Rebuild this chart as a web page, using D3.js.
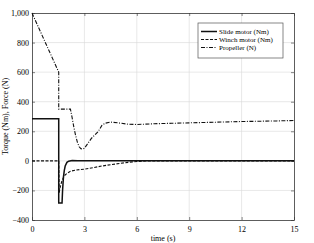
<!DOCTYPE html>
<html>
<head>
<meta charset="utf-8">
<title>Torque and force</title>
<script src="https://cdn.jsdelivr.net/npm/d3@7"></script>
<style>
  body { margin: 0; background: white; }
  text { font-family: "Liberation Serif", "DejaVu Serif", serif; font-size: 8px; fill: black; }
  .legend text { font-size: 7px; }
  .grid line { stroke: #d9d9d9; stroke-width: 0.6; }
</style>
</head>
<body>
<script>
// time (s) and values for each series
var slideT = [0, 1.53, 1.53, 1.72, 1.75, 1.8, 1.85, 1.9, 2.0, 2.1, 2.3, 2.6, 3, 15];
var slideV = [285, 285, -285, -285, -200, -110, -65, -35, -10, -2, 3, 1, 0, 0];

var winchT = [0, 1.53, 1.56, 1.6, 1.7, 1.8, 1.9, 2.0, 2.2, 2.5, 2.8, 3.0, 3.5, 4, 4.5, 5, 5.5, 6, 6.5, 7, 15];
var winchV = [0, 0, -215, -185, -140, -112, -95, -85, -70, -62, -58, -56, -46, -35, -26, -18, -10, -4, -1, 0, 0];

var propT = [0, 1.53, 1.53, 2.2, 2.3, 2.4, 2.5, 2.6, 2.7, 2.8, 2.9, 3.0, 3.2, 3.4, 3.6, 3.8, 4.0, 4.2, 4.5, 5, 5.5, 6, 7, 8, 9, 10, 11, 12, 13, 14, 15];
var propV = [1000, 600, 350, 350, 290, 225, 170, 125, 95, 82, 80, 85, 118, 152, 175, 200, 240, 255, 262, 256, 248, 246, 251, 254, 257, 260, 263, 266, 268, 270, 273];

var xTicks = [0, 3, 6, 9, 12, 15];
var yTicks = [-400, -200, 0, 200, 400, 600, 800, 1000];
var names = ["Slide motor (Nm)", "Winch motor (Nm)", "Propeller (N)"];

var width = 314, height = 243;
var margin = {top: 13, right: 20, bottom: 23, left: 32};
var w = width - margin.left - margin.right, h = height - margin.top - margin.bottom;

var svg = d3.select("body").append("svg").attr("width", width).attr("height", height);
var g = svg.append("g").attr("transform", "translate(" + margin.left + "," + margin.top + ")");

var x = d3.scaleLinear().domain([0, 15]).range([0, w]);
var y = d3.scaleLinear().domain([-400, 1000]).range([h, 0]);

// grid
g.append("g").attr("class", "grid").selectAll("line").data(xTicks.slice(1, -1)).enter().append("line")
  .attr("x1", d => x(d)).attr("x2", d => x(d)).attr("y1", 0).attr("y2", h);
g.append("g").attr("class", "grid").selectAll("line").data(yTicks.slice(1, -1)).enter().append("line")
  .attr("y1", d => y(d)).attr("y2", d => y(d)).attr("x1", 0).attr("x2", w);

// axes, ticks inside
g.append("g").attr("transform", "translate(0," + h + ")")
  .call(d3.axisBottom(x).tickValues(xTicks).tickSizeInner(-3).tickSizeOuter(0).tickPadding(6));
g.append("g")
  .call(d3.axisLeft(y).tickValues(yTicks).tickSizeInner(-3).tickSizeOuter(0).tickPadding(3));
g.append("g")
  .call(d3.axisTop(x).tickValues(xTicks).tickSizeInner(-3).tickSizeOuter(0).tickFormat(""));
g.append("g").attr("transform", "translate(" + w + ",0)")
  .call(d3.axisRight(y).tickValues(yTicks).tickSizeInner(-3).tickSizeOuter(0).tickFormat(""));
g.selectAll(".domain").attr("stroke", "#333").attr("stroke-width", 0.8);
g.selectAll(".tick line").attr("stroke", "#333").attr("stroke-width", 0.6);
g.selectAll(".tick text").attr("font-family", null).attr("font-size", null).attr("fill", null);

// lines
var line = d3.line().x(d => x(d[0])).y(d => y(d[1]));
var series = [
  {pts: d3.zip(slideT, slideV), dash: null, sw: 1.5},
  {pts: d3.zip(winchT, winchV), dash: "3,1.5", sw: 1.1},
  {pts: d3.zip(propT, propV), dash: "4,1.5,1,1.5", sw: 1.1}
];
series.forEach(function(s) {
  g.append("path").attr("d", line(s.pts)).attr("fill", "none")
    .attr("stroke", "#111").attr("stroke-width", s.sw)
    .attr("stroke-dasharray", s.dash);
});

// legend
var lg = svg.append("g").attr("class", "legend").attr("transform", "translate(198,23)");
lg.append("rect").attr("width", 85).attr("height", 35).attr("fill", "white")
  .attr("stroke", "#555").attr("stroke-width", 0.7);
names.forEach(function(n, i) {
  var yy = 8.5 + i * 8;
  lg.append("line").attr("x1", 3).attr("x2", 19).attr("y1", yy).attr("y2", yy)
    .attr("stroke", "#111").attr("stroke-width", series[i].sw)
    .attr("stroke-dasharray", series[i].dash);
  lg.append("text").attr("x", 21).attr("y", yy + 2.5).text(n);
});

// axis labels
svg.append("text").attr("x", margin.left + w / 2).attr("y", 241)
  .attr("text-anchor", "middle").text("time (s)");
svg.append("text").attr("transform", "translate(8," + (margin.top + h / 2) + ") rotate(-90)")
  .attr("text-anchor", "middle").text("Torque (Nm), Force (N)");
</script>
</body>
</html>
